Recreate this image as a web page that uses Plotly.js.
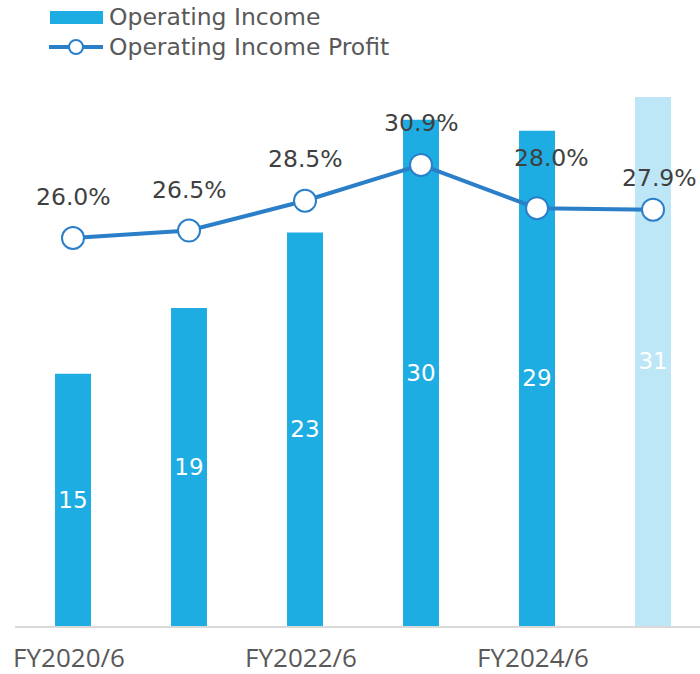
<!DOCTYPE html>
<html>
<head>
<meta charset="utf-8">
<script src="https://cdn.plot.ly/plotly-3.0.1.min.js"></script>
<style>html,body{margin:0;padding:0;background:#fff;}#chart{width:700px;height:674px;}</style>
</head>
<body>
<div id="chart"></div>
<script>
// ---- data ----
const categories = ["FY2020/6", "FY2021/6", "FY2022/6", "FY2023/6", "FY2024/6", "FY2025/6"];
const tickLabels = ["FY2020/6", "FY2022/6", "FY2024/6"];
const operatingIncome = [15.0, 18.9, 23.4, 30.1, 29.45, 31.45];
const operatingMargin = [26.0, 26.5, 28.5, 30.9, 28.0, 27.9];
const seriesNames = ["Operating Income", "Operating Income Profit"];

// ---- styles ----
const barColor = "#1eade3";
const barColorLight = "#bde6f6";
const lineColor = "#2b7fc8";
const barColors = categories.map((c, i) => i === categories.length - 1 ? barColorLight : barColor);
const labelFont = "DejaVu Sans, Verdana, sans-serif";
// pixel offsets of the percentage labels from their markers (layout only)
const pctLabelDx = [0, 0, 0, 0, 14, 6];
const pctLabelDy = [41, 41, 42, 42, 50, 32];

const barTrace = {
  type: "bar",
  x: categories,
  y: operatingIncome,
  name: seriesNames[0],
  marker: {color: barColors},
  text: operatingIncome.map(v => v.toFixed(0)),
  textposition: "inside",
  insidetextanchor: "middle",
  constraintext: "none",
  textfont: {color: "#ffffff", size: 23, family: labelFont},
  hoverinfo: "skip"
};

const lineTrace = {
  type: "scatter",
  mode: "lines+markers",
  x: categories,
  y: operatingMargin,
  yaxis: "y2",
  name: seriesNames[1],
  line: {color: lineColor, width: 4},
  marker: {size: 22, color: "#ffffff", line: {color: lineColor, width: 2}},
  cliponaxis: false,
  hoverinfo: "skip"
};

const pctAnnotations = operatingMargin.map((v, i) => ({
  x: categories[i], y: v, xref: "x", yref: "y2",
  text: v.toFixed(1) + "%", showarrow: false,
  xshift: pctLabelDx[i], yshift: pctLabelDy[i], xanchor: "center", yanchor: "middle",
  font: {size: 23.5, color: "#404040", family: labelFont}
}));

// custom legend (pixel offsets from plot's top-left corner)
const legendShapes = [
  {type: "rect", xref: "paper", yref: "paper", xsizemode: "pixel", ysizemode: "pixel",
   xanchor: 0, yanchor: 1, x0: 35, x1: 88, y0: 56, y1: 69,
   fillcolor: barColor, line: {width: 0}},
  {type: "line", xref: "paper", yref: "paper", xsizemode: "pixel", ysizemode: "pixel",
   xanchor: 0, yanchor: 1, x0: 34, x1: 88, y0: 33, y1: 33,
   line: {color: lineColor, width: 4}},
  {type: "circle", xref: "paper", yref: "paper", xsizemode: "pixel", ysizemode: "pixel",
   xanchor: 0, yanchor: 1, x0: 54, x1: 68, y0: 26, y1: 40,
   fillcolor: "#ffffff", line: {color: lineColor, width: 2}}
];
const legendTexts = seriesNames.map((n, i) => ({
  xref: "paper", yref: "paper", x: 0, y: 1, xshift: 92, yshift: i === 0 ? 63 : 33,
  xanchor: "left", yanchor: "middle", showarrow: false, text: n,
  font: {size: 23.5, color: "#595959", family: labelFont}
}));

const layout = {
  width: 700, height: 674,
  margin: {l: 15, r: 0, t: 80, b: 48, autoexpand: false},
  paper_bgcolor: "#ffffff", plot_bgcolor: "#ffffff",
  showlegend: false,
  bargap: 0.69,
  xaxis: {
    type: "category", range: [-0.5, 5.405],
    tickmode: "array", tickvals: tickLabels, ticktext: tickLabels,
    showline: true, linecolor: "#d9d9d9", linewidth: 2,
    showgrid: false, zeroline: false, ticks: "",
    ticklabelstandoff: 8, ticklabelshift: -4,
    tickfont: {size: 26, color: "#595959", family: "Open Sans, sans-serif"},
    automargin: false, fixedrange: true
  },
  yaxis: {range: [0, 32.46], visible: false, showgrid: false, zeroline: false, fixedrange: true},
  yaxis2: {range: [0, 36.59], overlaying: "y", side: "right", visible: false,
           showgrid: false, zeroline: false, fixedrange: true},
  shapes: legendShapes,
  annotations: pctAnnotations.concat(legendTexts)
};

Plotly.newPlot("chart", [barTrace, lineTrace], layout, {displayModeBar: false, staticPlot: true});
</script>
</body>
</html>
